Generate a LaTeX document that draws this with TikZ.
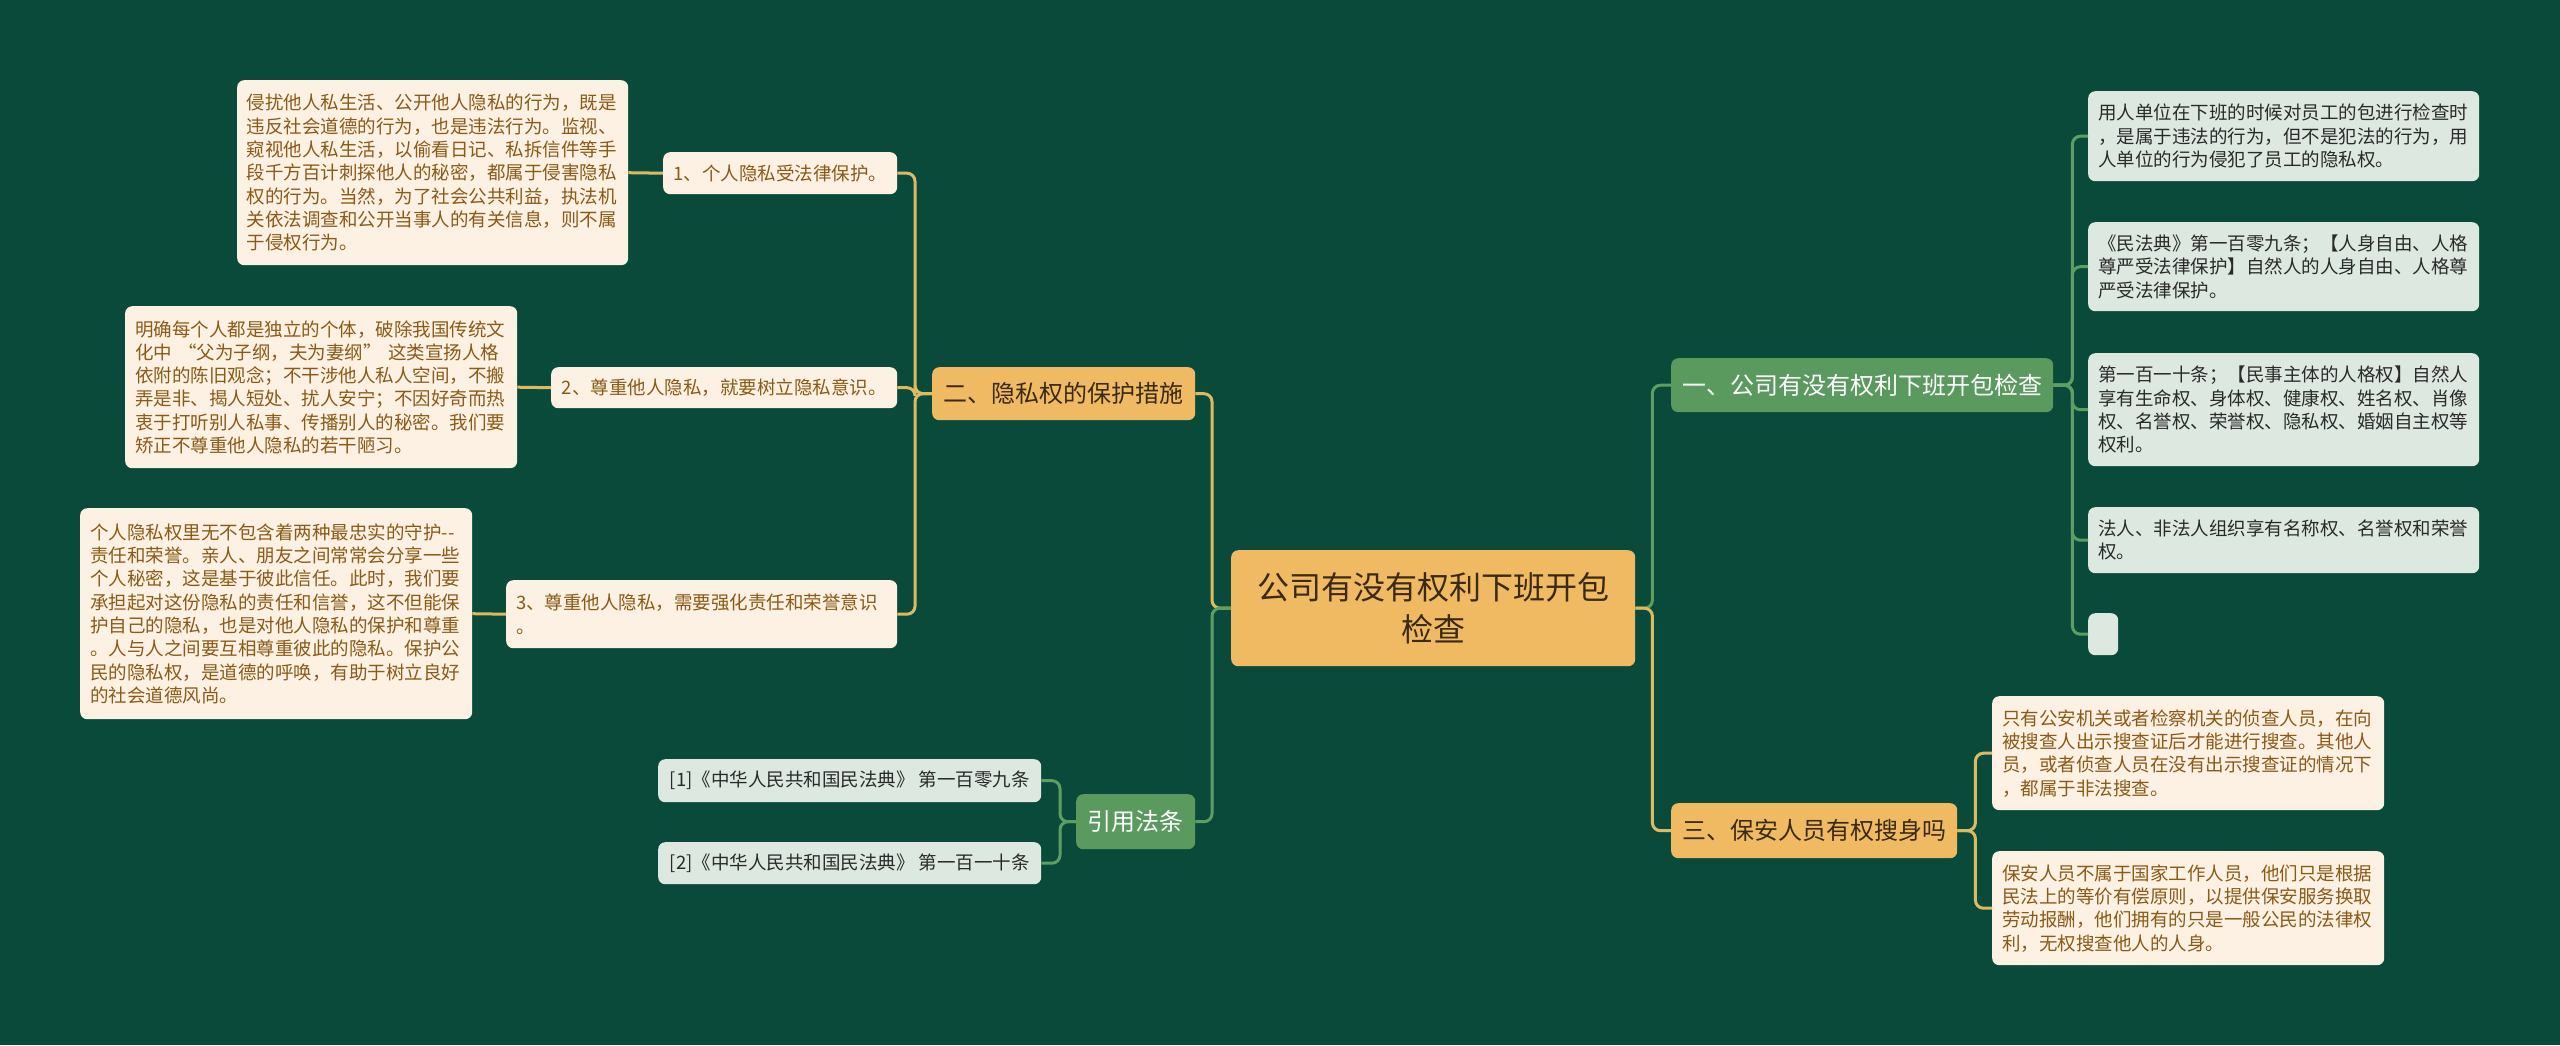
\documentclass[tikz,border=0pt]{standalone}
\usepackage{fontspec}
\setmainfont{Noto Sans CJK SC}
\definecolor{bg}{HTML}{0A4A3A}
\definecolor{cream}{HTML}{FCF1E2}
\definecolor{creamtext}{HTML}{8A5A16}
\definecolor{pale}{HTML}{DDE9E0}
\definecolor{paletext}{HTML}{2A2A2A}
\definecolor{orange}{HTML}{F0BA63}
\definecolor{orangetext}{HTML}{3A2A12}
\definecolor{greennode}{HTML}{5A9A5F}
\definecolor{goldline}{HTML}{DDBA62}
\definecolor{greenline}{HTML}{5E9E63}
\tikzset{
  base/.style={rounded corners=7, anchor=north west, inner sep=0pt},
  creambox/.style={base, fill=cream, text=creamtext},
  palebox/.style={base, fill=pale, text=paletext},
  orangebox/.style={base, fill=orange, text=orangetext, font=\fontsize{24}{30}\selectfont, align=center},
  greenbox/.style={base, fill=greennode, text=white, font=\fontsize{24}{30}\selectfont, align=center},
  leaftxt/.style={font=\fontsize{18.5}{23.3}\selectfont, align=left},
  goldconn/.style={draw=goldline, line width=3pt, rounded corners=8},
  greenconn/.style={draw=greenline, line width=3pt, rounded corners=8},
}
\begin{document}
\begin{tikzpicture}[x=1pt,y=-1pt]
\fill[bg] (0,0) rectangle (2560,1045);
\useasboundingbox (0,0) rectangle (2560,1045);

% root
\node[base, fill=orange, text=orangetext, font=\fontsize{32}{42}\selectfont, align=center,
  minimum width=404, minimum height=116] (root) at (1231,550)
  {公司有没有权利下班开包\\检查};

% left branch
\node[orangebox, minimum width=263, minimum height=53] (b2) at (932,367) {二、隐私权的保护措施};
\node[creambox, leaftxt, align=center, minimum width=234, minimum height=42] (n1) at (663,152) {1、个人隐私受法律保护。};
\node[creambox, leaftxt, align=center, minimum width=346, minimum height=41] (n2) at (551,367) {2、尊重他人隐私，就要树立隐私意识。};
\node[creambox, leaftxt, text width=371, minimum width=391, minimum height=68] (n3) at (506,580) {3、尊重他人隐私，需要强化责任和荣誉意识\\。};

\node[creambox, leaftxt, text width=372, minimum width=391, minimum height=185] (l1) at (237,80)
{侵扰他人私生活、公开他人隐私的行为，既是\\违反社会道德的行为，也是违法行为。监视、\\窥视他人私生活，以偷看日记、私拆信件等手\\段千方百计刺探他人的秘密，都属于侵害隐私\\权的行为。当然，为了社会公共利益，执法机\\关依法调查和公开当事人的有关信息，则不属\\于侵权行为。};
\node[creambox, leaftxt, text width=372, minimum width=392, minimum height=162] (l2) at (125,306)
{明确每个人都是独立的个体，破除我国传统文\\化中 “父为子纲，夫为妻纲” 这类宣扬人格\\依附的陈旧观念；不干涉他人私人空间，不搬\\弄是非、揭人短处、扰人安宁；不因好奇而热\\衷于打听别人私事、传播别人的秘密。我们要\\矫正不尊重他人隐私的若干陋习。};
\node[creambox, leaftxt, text width=372, minimum width=392, minimum height=211] (l3) at (80,508)
{个人隐私权里无不包含着两种最忠实的守护-{}-\\责任和荣誉。亲人、朋友之间常常会分享一些\\个人秘密，这是基于彼此信任。此时，我们要\\承担起对这份隐私的责任和信誉，这不但能保\\护自己的隐私，也是对他人隐私的保护和尊重\\。人与人之间要互相尊重彼此的隐私。保护公\\民的隐私权，是道德的呼唤，有助于树立良好\\的社会道德风尚。};

% citations
\node[greenbox, minimum width=119, minimum height=55] (cite) at (1076,794) {引用法条};
\node[palebox, leaftxt, align=center, minimum width=383, minimum height=43] (c1) at (658,759) {[1]《中华人民共和国民法典》 第一百零九条};
\node[palebox, leaftxt, align=center, minimum width=383, minimum height=42] (c2) at (658,842) {[2]《中华人民共和国民法典》 第一百一十条};

% right branches
\node[greenbox, minimum width=382, minimum height=54] (b1) at (1671,358) {一、公司有没有权利下班开包检查};
\node[orangebox, minimum width=286, minimum height=55] (b3) at (1671,803) {三、保安人员有权搜身吗};

\node[palebox, leaftxt, text width=371, minimum width=391, minimum height=90] (r1) at (2088,91)
{用人单位在下班的时候对员工的包进行检查时\\，是属于违法的行为，但不是犯法的行为，用\\人单位的行为侵犯了员工的隐私权。};
\node[palebox, leaftxt, text width=371, minimum width=391, minimum height=89] (r2) at (2088,222)
{《民法典》第一百零九条；【人身自由、人格\\尊严受法律保护】自然人的人身自由、人格尊\\严受法律保护。};
\node[palebox, leaftxt, text width=371, minimum width=391, minimum height=113] (r3) at (2088,353)
{第一百一十条；【民事主体的人格权】自然人\\享有生命权、身体权、健康权、姓名权、肖像\\权、名誉权、荣誉权、隐私权、婚姻自主权等\\权利。};
\node[palebox, leaftxt, text width=371, minimum width=391, minimum height=66] (r4) at (2088,507)
{法人、非法人组织享有名称权、名誉权和荣誉\\权。};
\node[palebox, minimum width=30, minimum height=42] (r5) at (2088,613) {};

\node[creambox, leaftxt, text width=372, minimum width=392, minimum height=114] (t1) at (1992,696)
{只有公安机关或者检察机关的侦查人员，在向\\被搜查人出示搜查证后才能进行搜查。其他人\\员，或者侦查人员在没有出示搜查证的情况下\\，都属于非法搜查。};
\node[creambox, leaftxt, text width=372, minimum width=392, minimum height=114] (t2) at (1992,851)
{保安人员不属于国家工作人员，他们只是根据\\民法上的等价有偿原则，以提供保安服务换取\\劳动报酬，他们拥有的只是一般公民的法律权\\利，无权搜查他人的人身。};

% connectors
\draw[goldconn] (root.west) -- ++(-19,0) |- (b2.east);
\draw[greenconn] (root.west) -- ++(-19,0) |- (cite.east);
\draw[greenconn] (root.east) -- ++(17,0) |- (b1.west);
\draw[goldconn] (root.east) -- ++(17,0) |- (b3.west);

\draw[goldconn] (b2.west) -- ++(-17,0) |- (n1.east);
\draw[goldconn] (b2.west) -- ++(-17,0) |- (n2.east);
\draw[goldconn] (b2.west) -- ++(-17,0) |- (n3.east);
\draw[goldconn] (n1.west) -- (l1.east);
\draw[goldconn] (n2.west) -- (l2.east);
\draw[goldconn] (n3.west) -- (l3.east);

\draw[greenconn] (cite.west) -- ++(-16,0) |- (c1.east);
\draw[greenconn] (cite.west) -- ++(-16,0) |- (c2.east);

\draw[greenconn] (b1.east) -- ++(19,0) |- (r1.west);
\draw[greenconn] (b1.east) -- ++(19,0) |- (r2.west);
\draw[greenconn] (b1.east) -- ++(19,0) |- (r3.west);
\draw[greenconn] (b1.east) -- ++(19,0) |- (r4.west);
\draw[greenconn] (b1.east) -- ++(19,0) |- (r5.west);

\draw[goldconn] (b3.east) -- ++(18,0) |- (t1.west);
\draw[goldconn] (b3.east) -- ++(18,0) |- (t2.west);
\end{tikzpicture}
\end{document}
